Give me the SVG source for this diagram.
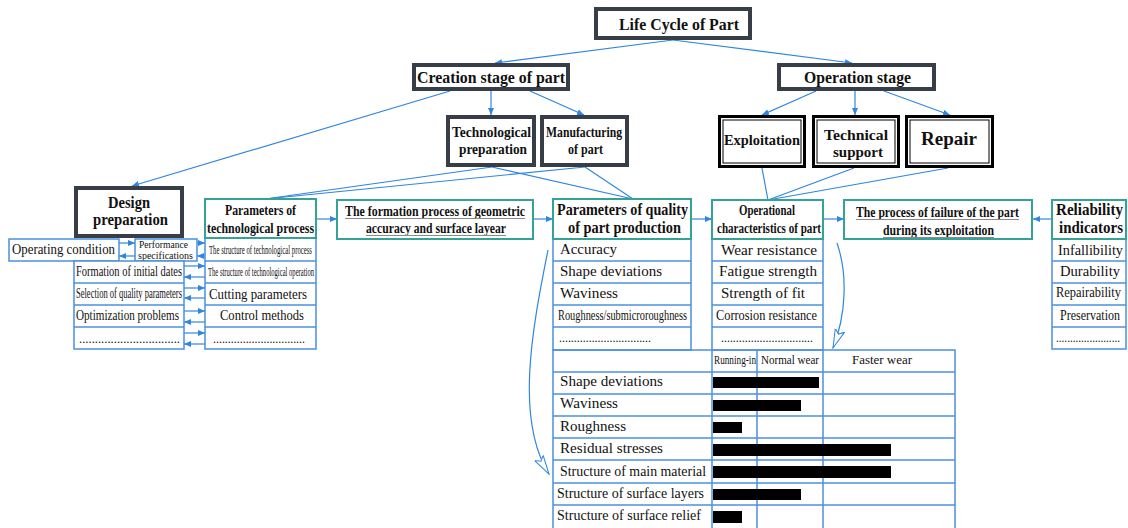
<svg xmlns="http://www.w3.org/2000/svg" width="1128" height="528" viewBox="0 0 1128 528">
<style>
.dk{fill:#fff;stroke:#383e48;stroke-width:4}
.bk{fill:#fff;stroke:#000;stroke-width:3}
.bki{fill:none;stroke:#000;stroke-width:1}
.tl{fill:#fff;stroke:#33a39a;stroke-width:2}
.bl{fill:#fff;stroke:#4a90e2;stroke-width:1.5}
.ln{stroke:#4a90e2;stroke-width:1.5;fill:none}
.b{font-family:"Liberation Serif","Times New Roman",serif;font-weight:bold;fill:#111}
.r{font-family:"Liberation Serif","Times New Roman",serif;fill:#111}
.c{stroke:#2f86e0;stroke-width:1.2;fill:none}
.ca{stroke:#2f86e0;stroke-width:1.2;fill:none;marker-end:url(#ah)}
.cv{stroke:#2f86e0;stroke-width:1.2;fill:none;marker-end:url(#oh)}
.ul{stroke:#8a8a8a;stroke-width:1}
</style>
<defs>
<marker id="ah" markerUnits="userSpaceOnUse" markerWidth="7" markerHeight="6" refX="7" refY="3" orient="auto"><path d="M0,0 L7,3 L0,6 z" fill="#2f86e0"/></marker>
<marker id="oh" markerUnits="userSpaceOnUse" markerWidth="20" markerHeight="12" refX="19" refY="6" orient="auto"><path d="M0,1 L19,6 L0,11 L4,6 z" fill="#fff" stroke="#2f86e0" stroke-width="1"/></marker>
</defs>
<rect width="1128" height="528" fill="#fff"/>

<g id="connectors">
<line class="ca" x1="673" y1="40" x2="495" y2="63"/>
<line class="ca" x1="673" y1="40" x2="852" y2="63"/>
<line class="ca" x1="491" y1="91" x2="491" y2="115"/>
<line class="ca" x1="530" y1="91" x2="584" y2="115"/>
<line class="ca" x1="450" y1="91" x2="132" y2="186"/>
<line class="ca" x1="816" y1="91" x2="762" y2="115"/>
<line class="ca" x1="855" y1="91" x2="855" y2="115"/>
<line class="ca" x1="884" y1="91" x2="950" y2="115"/>
<line class="c" x1="492" y1="167" x2="265" y2="199"/>
<line class="c" x1="585" y1="167" x2="265" y2="199"/>
<line class="c" x1="492" y1="167" x2="633" y2="199"/>
<line class="c" x1="585" y1="167" x2="633" y2="199"/>
<line class="c" x1="762" y1="168" x2="768" y2="200"/>
<line class="c" x1="854" y1="168" x2="768" y2="200"/>
<line class="c" x1="948" y1="168" x2="768" y2="200"/>
<line class="ca" x1="317" y1="219" x2="337" y2="219"/>
<line class="ca" x1="534" y1="219" x2="553" y2="219"/>
<line class="ca" x1="692" y1="219" x2="712" y2="219"/>
<line class="ca" x1="824" y1="219" x2="844" y2="219"/>
<line class="ca" x1="1052" y1="219" x2="1033" y2="219"/>
<line class="ca" x1="119" y1="243" x2="135" y2="243"/>
<line class="ca" x1="135" y1="256" x2="119" y2="256"/>
<line class="ca" x1="197" y1="243" x2="205" y2="243"/>
<line class="ca" x1="205" y1="256" x2="197" y2="256"/>
<line class="ca" x1="184" y1="266" x2="205" y2="266"/>
<line class="ca" x1="205" y1="277" x2="184" y2="277"/>
<line class="ca" x1="184" y1="288" x2="205" y2="288"/>
<line class="ca" x1="205" y1="298" x2="184" y2="298"/>
<line class="ca" x1="184" y1="311" x2="205" y2="311"/>
<line class="ca" x1="205" y1="322" x2="184" y2="322"/>
<line class="ca" x1="184" y1="333" x2="205" y2="333"/>
<line class="ca" x1="205" y1="344" x2="184" y2="344"/>
<path class="cv" d="M548,250 C532,330 515,420 549,474"/>
<path class="cv" d="M837,243 C848,275 846,315 833,348"/>
</g>

<g id="life-cycle">
<rect class="dk" x="596" y="9" width="154" height="29"/>
<text class="b" x="619" y="30" font-size="17" textLength="120" lengthAdjust="spacingAndGlyphs">Life Cycle of Part</text>
</g>
<g id="creation-stage">
<rect class="dk" x="414" y="65" width="154" height="24"/>
<text class="b" x="417" y="83" font-size="16" textLength="148" lengthAdjust="spacingAndGlyphs">Creation stage of part</text>
</g>
<g id="operation-stage">
<rect class="dk" x="779" y="65" width="155" height="24"/>
<text class="b" x="804" y="83" font-size="16" textLength="107" lengthAdjust="spacingAndGlyphs">Operation stage</text>
</g>
<g id="technological-preparation">
<rect class="dk" x="448" y="117" width="86" height="48"/>
<text class="b" x="452" y="137" font-size="15" textLength="79" lengthAdjust="spacingAndGlyphs">Technological</text>
<text class="b" x="459" y="154" font-size="15" textLength="68" lengthAdjust="spacingAndGlyphs">preparation</text>
</g>
<g id="manufacturing">
<rect class="dk" x="542" y="117" width="85" height="48"/>
<text class="b" x="546" y="137" font-size="15" textLength="76" lengthAdjust="spacingAndGlyphs">Manufacturing</text>
<text class="b" x="568" y="154" font-size="15" textLength="35" lengthAdjust="spacingAndGlyphs">of part</text>
</g>
<g id="exploitation">
<rect class="bk" x="719.5" y="116.5" width="85" height="50"/>
<rect class="bki" x="723" y="120" width="78" height="43"/>
<text class="b" x="724" y="145" font-size="15" textLength="76" lengthAdjust="spacingAndGlyphs">Exploitation</text>
</g>
<g id="technical-support">
<rect class="bk" x="813.5" y="116.5" width="85" height="50"/>
<rect class="bki" x="817" y="120" width="78" height="43"/>
<text class="b" x="824" y="140" font-size="15" textLength="64" lengthAdjust="spacingAndGlyphs">Technical</text>
<text class="b" x="833" y="157" font-size="15" textLength="50" lengthAdjust="spacingAndGlyphs">support</text>
</g>
<g id="repair">
<rect class="bk" x="906.5" y="116.5" width="86" height="50"/>
<rect class="bki" x="910" y="120" width="79" height="43"/>
<text class="b" x="921" y="145" font-size="18" textLength="56" lengthAdjust="spacingAndGlyphs">Repair</text>
</g>
<g id="design-preparation">
<rect class="dk" x="76" y="188" width="106" height="48"/>
<text class="b" x="108" y="208" font-size="17" textLength="42" lengthAdjust="spacingAndGlyphs">Design</text>
<text class="b" x="93" y="225" font-size="17" textLength="75" lengthAdjust="spacingAndGlyphs">preparation</text>
</g>

<g id="operating-condition">
<rect class="bl" x="9" y="239" width="110" height="22"/>
<text class="r" x="12" y="254" font-size="15" textLength="103" lengthAdjust="spacingAndGlyphs">Operating condition</text>
</g>
<g id="performance-specifications">
<rect class="bl" x="135" y="239" width="62" height="22"/>
<text class="r" x="139" y="248" font-size="11" textLength="49" lengthAdjust="spacingAndGlyphs">Performance</text>
<text class="r" x="138" y="259" font-size="11" textLength="55" lengthAdjust="spacingAndGlyphs">specifications</text>
</g>
<g id="design-list">
<rect class="bl" x="74" y="261" width="110" height="88"/>
<line class="ln" x1="74" y1="283" x2="184" y2="283"/>
<line class="ln" x1="74" y1="305" x2="184" y2="305"/>
<line class="ln" x1="74" y1="327" x2="184" y2="327"/>
<text class="r" x="76" y="276" font-size="15" textLength="106" lengthAdjust="spacingAndGlyphs">Formation of initial dates</text>
<text class="r" x="76" y="298" font-size="14" textLength="106" lengthAdjust="spacingAndGlyphs">Selection of quality parameters</text>
<text class="r" x="76" y="320" font-size="15" textLength="103" lengthAdjust="spacingAndGlyphs">Optimization problems</text>
<text class="r" x="79" y="343" font-size="12" textLength="101" lengthAdjust="spacingAndGlyphs">................................</text>
</g>

<g id="technological-process">
<rect class="bl" x="205" y="238" width="111" height="111"/>
<line class="ln" x1="205" y1="261" x2="316" y2="261"/>
<line class="ln" x1="205" y1="283" x2="316" y2="283"/>
<line class="ln" x1="205" y1="305" x2="316" y2="305"/>
<line class="ln" x1="205" y1="327" x2="316" y2="327"/>
<rect class="tl" x="205" y="199" width="111" height="39"/>
<text class="b" x="225" y="215" font-size="15" textLength="71" lengthAdjust="spacingAndGlyphs">Parameters of</text>
<text class="b" x="207" y="233" font-size="15" textLength="107" lengthAdjust="spacingAndGlyphs">technological  process</text>
<text class="r" x="209" y="254" font-size="13" textLength="103" lengthAdjust="spacingAndGlyphs">The structure of  technological process</text>
<text class="r" x="208" y="276" font-size="13" textLength="106" lengthAdjust="spacingAndGlyphs">The structure of  technological operation</text>
<text class="r" x="209" y="299" font-size="15" textLength="98" lengthAdjust="spacingAndGlyphs">Cutting parameters</text>
<text class="r" x="220" y="320" font-size="15" textLength="84" lengthAdjust="spacingAndGlyphs">Control methods</text>
<text class="r" x="213" y="343" font-size="12" textLength="92" lengthAdjust="spacingAndGlyphs">...............................</text>
</g>

<g id="formation-process">
<rect class="tl" x="337" y="200" width="196" height="39"/>
<text class="b" x="345" y="216" font-size="15" textLength="180" lengthAdjust="spacingAndGlyphs">The formation process of  geometric</text>
<text class="b" x="366" y="233" font-size="15" textLength="140" lengthAdjust="spacingAndGlyphs">accuracy and surface layear</text>
<line class="ul" x1="345" y1="218.5" x2="525" y2="218.5"/>
<line class="ul" x1="366" y1="235.5" x2="506" y2="235.5"/>
</g>

<g id="quality-parameters">
<rect class="bl" x="553" y="239" width="138" height="111"/>
<line class="ln" x1="553" y1="261" x2="691" y2="261"/>
<line class="ln" x1="553" y1="283" x2="691" y2="283"/>
<line class="ln" x1="553" y1="305" x2="691" y2="305"/>
<line class="ln" x1="553" y1="327" x2="691" y2="327"/>
<rect class="tl" x="553" y="199" width="138" height="40"/>
<text class="b" x="557" y="215" font-size="17" textLength="131" lengthAdjust="spacingAndGlyphs">Parameters of quality</text>
<text class="b" x="568" y="233" font-size="17" textLength="113" lengthAdjust="spacingAndGlyphs">of part production</text>
<text class="r" x="560" y="254" font-size="15" textLength="57" lengthAdjust="spacingAndGlyphs">Accuracy</text>
<text class="r" x="560" y="276" font-size="15" textLength="102" lengthAdjust="spacingAndGlyphs">Shape deviations</text>
<text class="r" x="560" y="298" font-size="15" textLength="58" lengthAdjust="spacingAndGlyphs">Waviness</text>
<text class="r" x="558" y="320" font-size="14" textLength="129" lengthAdjust="spacingAndGlyphs">Roughness/submicroroughness</text>
<text class="r" x="559" y="342" font-size="12" textLength="92" lengthAdjust="spacingAndGlyphs">...............................</text>
</g>

<g id="operational-characteristics">
<rect class="bl" x="712" y="239" width="111" height="111"/>
<line class="ln" x1="712" y1="261" x2="823" y2="261"/>
<line class="ln" x1="712" y1="283" x2="823" y2="283"/>
<line class="ln" x1="712" y1="305" x2="823" y2="305"/>
<line class="ln" x1="712" y1="327" x2="823" y2="327"/>
<rect class="tl" x="712" y="200" width="111" height="39"/>
<text class="b" x="739" y="215" font-size="15" textLength="56" lengthAdjust="spacingAndGlyphs">Operational</text>
<text class="b" x="717" y="233" font-size="15" textLength="104" lengthAdjust="spacingAndGlyphs">characteristics of part</text>
<text class="r" x="721" y="255" font-size="15" textLength="96" lengthAdjust="spacingAndGlyphs">Wear resistance</text>
<text class="r" x="719" y="276" font-size="15" textLength="98" lengthAdjust="spacingAndGlyphs">Fatigue strength</text>
<text class="r" x="721" y="298" font-size="15" textLength="84" lengthAdjust="spacingAndGlyphs">Strength of fit</text>
<text class="r" x="716" y="320" font-size="15" textLength="101" lengthAdjust="spacingAndGlyphs">Corrosion resistance</text>
<text class="r" x="721" y="342" font-size="12" textLength="92" lengthAdjust="spacingAndGlyphs">...............................</text>
</g>

<g id="failure-process">
<rect class="tl" x="844" y="200" width="188" height="39"/>
<text class="b" x="856" y="217" font-size="15" textLength="163" lengthAdjust="spacingAndGlyphs">The process of failure of the part</text>
<text class="b" x="883" y="235" font-size="15" textLength="111" lengthAdjust="spacingAndGlyphs">during its exploitation</text>
<line class="ul" x1="856" y1="219.5" x2="1019" y2="219.5"/>
<line class="ul" x1="883" y1="237.5" x2="994" y2="237.5"/>
</g>

<g id="reliability-indicators">
<rect class="bl" x="1052" y="239" width="74" height="110"/>
<line class="ln" x1="1052" y1="261" x2="1126" y2="261"/>
<line class="ln" x1="1052" y1="283" x2="1126" y2="283"/>
<line class="ln" x1="1052" y1="305" x2="1126" y2="305"/>
<line class="ln" x1="1052" y1="327" x2="1126" y2="327"/>
<rect class="tl" x="1052" y="200" width="74" height="39"/>
<text class="b" x="1056" y="215" font-size="17" textLength="67" lengthAdjust="spacingAndGlyphs">Reliability</text>
<text class="b" x="1059" y="233" font-size="17" textLength="64" lengthAdjust="spacingAndGlyphs">indicators</text>
<text class="r" x="1058" y="255" font-size="15" textLength="65" lengthAdjust="spacingAndGlyphs">Infallibility</text>
<text class="r" x="1060" y="276" font-size="15" textLength="60" lengthAdjust="spacingAndGlyphs">Durability</text>
<text class="r" x="1056" y="297" font-size="15" textLength="65" lengthAdjust="spacingAndGlyphs">Repairability</text>
<text class="r" x="1060" y="320" font-size="15" textLength="60" lengthAdjust="spacingAndGlyphs">Preservation</text>
<text class="r" x="1056" y="342" font-size="12" textLength="64" lengthAdjust="spacingAndGlyphs">.......................</text>
</g>

<g id="wear-table">
<rect class="ln" x="553" y="350" width="402" height="182"/>
<line class="ln" x1="553" y1="372" x2="955" y2="372"/>
<line class="ln" x1="553" y1="394" x2="955" y2="394"/>
<line class="ln" x1="553" y1="416" x2="955" y2="416"/>
<line class="ln" x1="553" y1="438" x2="955" y2="438"/>
<line class="ln" x1="553" y1="460" x2="955" y2="460"/>
<line class="ln" x1="553" y1="483" x2="955" y2="483"/>
<line class="ln" x1="553" y1="505" x2="955" y2="505"/>
<line class="ln" x1="712" y1="350" x2="712" y2="528"/>
<line class="ln" x1="757" y1="350" x2="757" y2="528"/>
<line class="ln" x1="823" y1="350" x2="823" y2="528"/>
<text class="r" x="714" y="364" font-size="13" textLength="42" lengthAdjust="spacingAndGlyphs">Running-in</text>
<text class="r" x="761" y="364" font-size="13" textLength="58" lengthAdjust="spacingAndGlyphs">Normal wear</text>
<text class="r" x="852" y="364" font-size="13" textLength="60" lengthAdjust="spacingAndGlyphs">Faster wear</text>
<text class="r" x="560" y="386" font-size="15" textLength="103" lengthAdjust="spacingAndGlyphs">Shape deviations</text>
<text class="r" x="560" y="408" font-size="15" textLength="58" lengthAdjust="spacingAndGlyphs">Waviness</text>
<text class="r" x="560" y="431" font-size="15" textLength="66" lengthAdjust="spacingAndGlyphs">Roughness</text>
<text class="r" x="560" y="453" font-size="15" textLength="103" lengthAdjust="spacingAndGlyphs">Residual stresses</text>
<text class="r" x="560" y="476" font-size="15" textLength="146" lengthAdjust="spacingAndGlyphs">Structure of main material</text>
<text class="r" x="557" y="498" font-size="15" textLength="147" lengthAdjust="spacingAndGlyphs">Structure of surface layers</text>
<text class="r" x="557" y="520" font-size="15" textLength="144" lengthAdjust="spacingAndGlyphs">Structure of surface relief</text>
<rect x="713" y="377" width="106" height="11" fill="#000"/>
<rect x="713" y="400" width="88" height="11" fill="#000"/>
<rect x="713" y="422" width="29" height="11" fill="#000"/>
<rect x="713" y="444" width="178" height="12" fill="#000"/>
<rect x="713" y="466" width="178" height="12" fill="#000"/>
<rect x="713" y="489" width="88" height="11" fill="#000"/>
<rect x="713" y="511" width="29" height="12" fill="#000"/>
</g>
</svg>
